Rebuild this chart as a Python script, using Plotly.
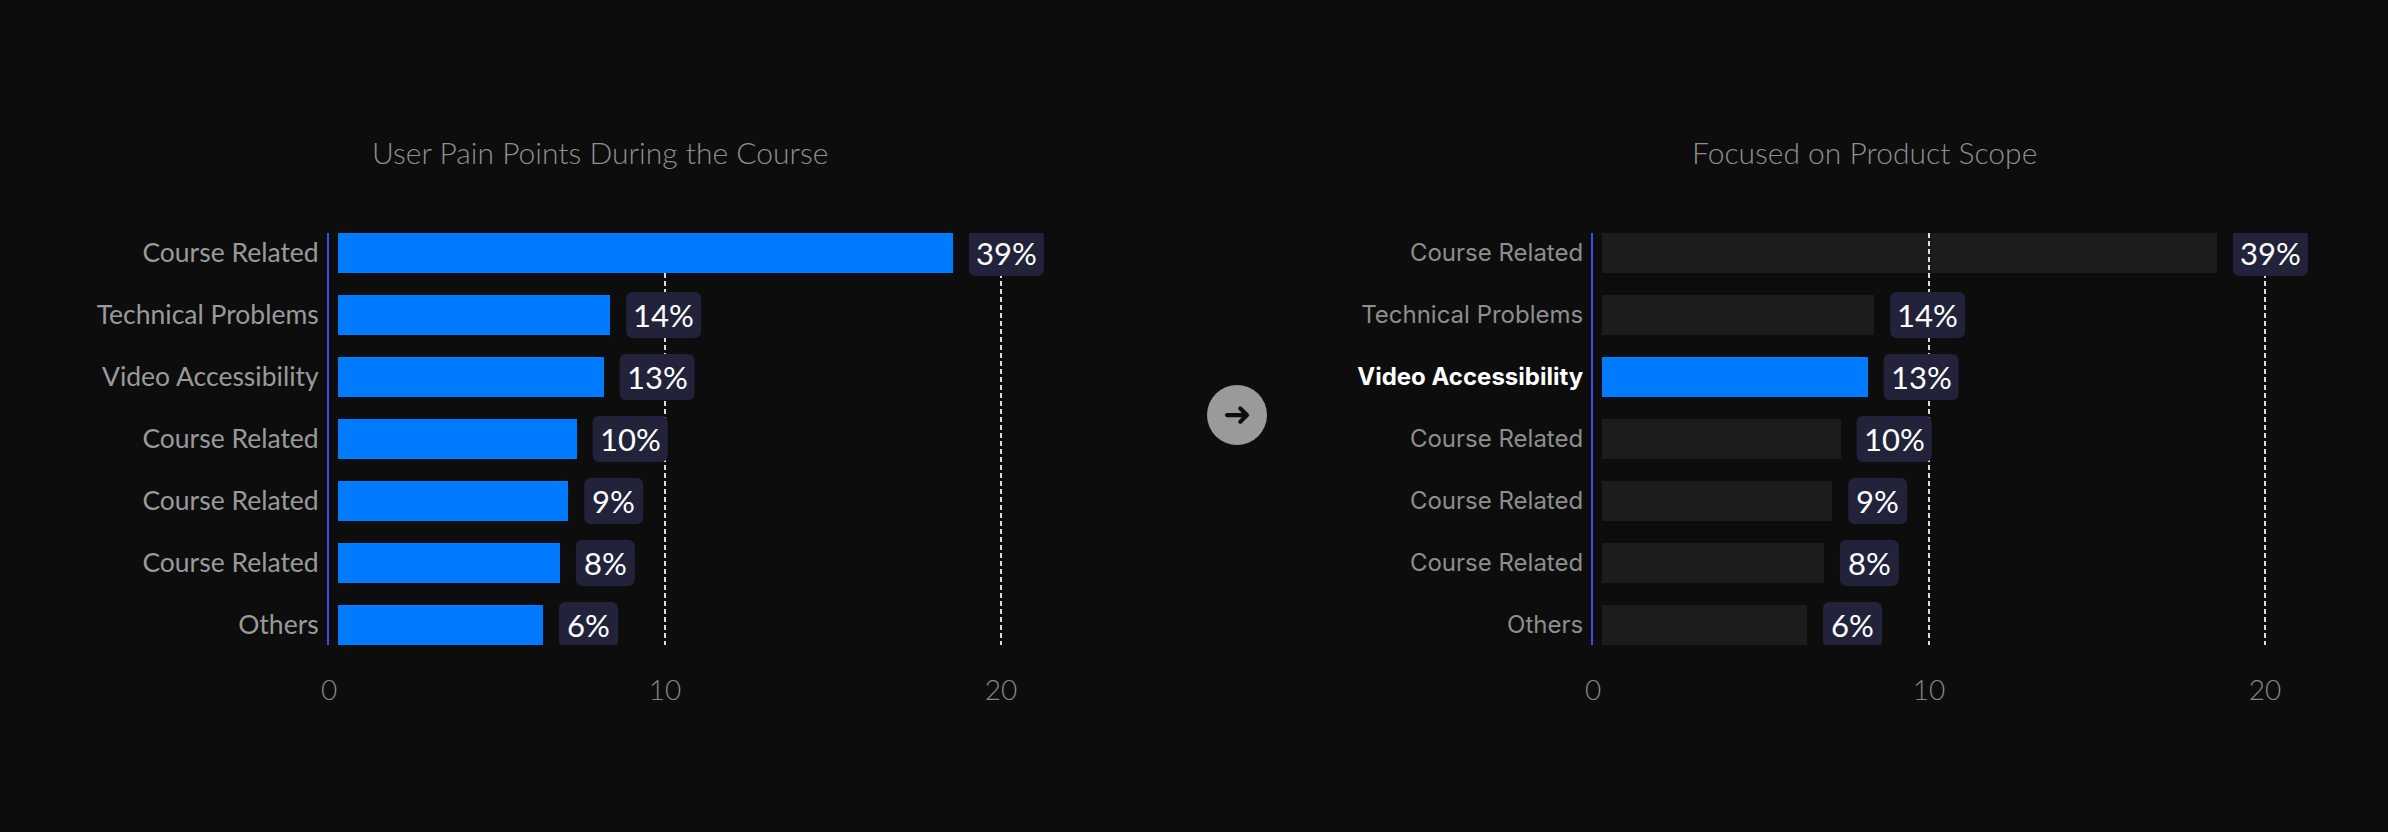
import plotly.graph_objs as go

# Datos del grafico
categorias = ['Course Related', 'Technical Problems', 'Video Accessibility',
              'Course Related', 'Course Related', 'Course Related', 'Others']
valores = [18.3, 8.1, 7.9, 7.1, 6.85, 6.6, 6.1]
etiquetas = ['39%', '14%', '13%', '10%', '9%', '8%', '6%']
destacado = 'Video Accessibility'
ticks_x = [0, 10, 20]
titulo_izq = 'User Pain Points During the Course'
titulo_der = 'Focused on Product Scope'

W, H = 2388, 832
BG = '#0d0d0d'
AZUL = '#007bff'
GRIS_BARRA = 'rgba(255,255,255,0.062)'
PILL = '#22233a'
BASE = 0.27          # las barras empiezan un poco despues del eje
UNIT = 33.6          # px por unidad en x
X_MAX = 22
ANCHO_BARRA = 0.645


def px_x(p):
    return p / W


def px_y(p):
    return 1 - p / H


posiciones = list(range(len(categorias)))

fig = go.Figure()

# Panel izquierdo: todas las barras en azul
fig.add_trace(go.Bar(
    x=valores, y=posiciones, base=BASE, orientation='h',
    width=ANCHO_BARRA, marker=dict(color=AZUL, line=dict(width=0)),
    xaxis='x', yaxis='y', hoverinfo='skip', showlegend=False
))

# Panel derecho: solo la categoria destacada en azul
colores_der = [AZUL if c == destacado else GRIS_BARRA for c in categorias]
fig.add_trace(go.Bar(
    x=valores, y=posiciones, base=BASE, orientation='h',
    width=ANCHO_BARRA, marker=dict(color=colores_der, line=dict(width=0)),
    xaxis='x2', yaxis='y2', hoverinfo='skip', showlegend=False
))

# Etiquetas tipo "pastilla" con esquinas redondeadas
shapes = []
annotations = []
for xref, yref in [('x', 'y'), ('x2', 'y2')]:
    for pos, val, lab in zip(posiciones, valores, etiquetas):
        w = 75 if len(lab) == 3 else 59
        x0, x1, y0, y1, r = 16, 16 + w, -23, 23, 7
        path = (f'M {x0 + r},{y0} L {x1 - r},{y0} Q {x1},{y0} {x1},{y0 + r} '
                f'L {x1},{y1 - r} Q {x1},{y1} {x1 - r},{y1} L {x0 + r},{y1} '
                f'Q {x0},{y1} {x0},{y1 - r} L {x0},{y0 + r} Q {x0},{y0} {x0 + r},{y0} Z')
        shapes.append(dict(
            type='path', path=path, xref=xref, yref=yref,
            xsizemode='pixel', ysizemode='pixel',
            xanchor=BASE + val, yanchor=pos,
            fillcolor=PILL, line=dict(width=0), layer='above'
        ))
        annotations.append(dict(
            x=BASE + val, y=pos, xref=xref, yref=yref, text=lab,
            showarrow=False, xanchor='center', yanchor='middle',
            xshift=16 + w / 2, yshift=0,
            font=dict(family='Lato', size=31, color='white')
        ))

# Titulos
for xc, txt in [(600, titulo_izq), (1864, titulo_der)]:
    annotations.append(dict(
        x=px_x(xc), y=px_y(152), xref='paper', yref='paper', text=txt,
        showarrow=False, xanchor='center', yanchor='middle',
        font=dict(family='Lato', size=30, color='#8f8f8f', weight=300)
    ))

# Circulo con flecha entre los dos paneles
cx, cy, rad = 1237, 415, 30
shapes.append(dict(
    type='circle', xref='paper', yref='paper',
    x0=px_x(cx - rad), x1=px_x(cx + rad), y0=px_y(cy + rad), y1=px_y(cy - rad),
    fillcolor='#9a9a9a', line=dict(width=0), layer='above'
))
annotations.append(dict(
    x=px_x(cx), y=px_y(cy), xref='paper', yref='paper', text='<b>➜</b>',
    showarrow=False, xanchor='center', yanchor='middle', yshift=1,
    font=dict(family='DejaVu Sans', size=34, color='#0d0d0d')
))

left0 = 329
right0 = 1593
y_dom = [px_y(645), px_y(233)]

xaxis_comun = dict(
    range=[0, X_MAX], tickvals=ticks_x, ticktext=[str(t) for t in ticks_x],
    showgrid=True, gridcolor='#dcdcdc', gridwidth=2, griddash='5px,3px',
    zeroline=False, showline=False, ticks='', ticklabelstandoff=26,
    tickfont=dict(family='Lato', size=28, color='#858585', weight=300),
    automargin=False, fixedrange=True
)
yaxis_comun = dict(
    range=[len(categorias) - 1 + ANCHO_BARRA / 2, -ANCHO_BARRA / 2],
    tickvals=posiciones, showgrid=False, zeroline=False,
    showline=True, linecolor='#3d4fe0', linewidth=2, ticks='',
    ticklabelstandoff=3, automargin=False, fixedrange=True
)

ticktext_der = [f'<span style="color:#ffffff"><b>{c}</b></span>' if c == destacado else c
                for c in categorias]

fig.update_layout(
    width=W, height=H,
    margin=dict(l=0, r=0, t=0, b=0),
    paper_bgcolor=BG, plot_bgcolor=BG,
    bargap=0,
    xaxis=dict(xaxis_comun, domain=[px_x(left0), px_x(left0 + X_MAX * UNIT)], anchor='y'),
    yaxis=dict(yaxis_comun, domain=y_dom, anchor='x', ticktext=categorias,
               tickfont=dict(family='Lato', size=26.5, color='#9a9a9a')),
    xaxis2=dict(xaxis_comun, domain=[px_x(right0), px_x(right0 + X_MAX * UNIT)], anchor='y2'),
    yaxis2=dict(yaxis_comun, domain=y_dom, anchor='x2', ticktext=ticktext_der,
                tickfont=dict(family='Inter', size=24, color='#8e8e8e')),
    shapes=shapes,
    annotations=annotations,
    showlegend=False,
    hovermode=False
)

fig.write_html('out.html', config={'displayModeBar': False},
               post_script="document.body.style.margin='0';"
                           "document.body.style.background='#0d0d0d';")
